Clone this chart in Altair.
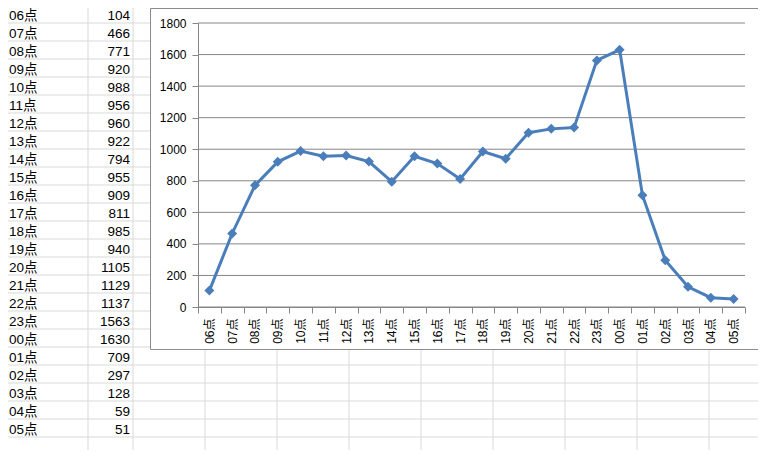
import altair as alt
import pandas as pd

# ---- data ----
hours = ["06点", "07点", "08点", "09点", "10点", "11点", "12点", "13点", "14点", "15点",
         "16点", "17点", "18点", "19点", "20点", "21点", "22点", "23点", "00点", "01点",
         "02点", "03点", "04点", "05点"]
counts = [104, 466, 771, 920, 988, 956, 960, 922, 794, 955,
          909, 811, 985, 940, 1105, 1129, 1137, 1563, 1630, 709,
          297, 128, 59, 51]
y_ticks = [0, 200, 400, 600, 800, 1000, 1200, 1400, 1600, 1800]

df = pd.DataFrame({"hour": hours, "count": counts, "row": list(range(len(hours)))})
ticks_df = pd.DataFrame({"t": y_ticks})

# ---- layout (pixels, relative to plot-area origin) ----
W, H = 547, 284
ROW_H = 18
FONT = "Liberation Sans, Noto Sans CJK SC"
BLUE = "#4A7EBB"
GRID = "#868686"
SHEET = "#d9d9d9"

sheet_rows = pd.DataFrame({"k": list(range(0, 25))})
sheet_cols = pd.DataFrame({"px": [-110, -65, 7, 79, 151, 223, 295, 367, 439, 511]})
one = pd.DataFrame({"a": [0]})

h_lines = alt.Chart(sheet_rows).transform_calculate(vy=f"datum.k*{ROW_H}").mark_rule(
    color=SHEET, strokeWidth=1).encode(
    y=alt.Y("vy:Q", scale=None, axis=None),
    x=alt.value(-190), x2=alt.value(568))

v_lines = alt.Chart(sheet_cols).mark_rule(color=SHEET, strokeWidth=1).encode(
    x=alt.X("px:Q", scale=None, axis=None),
    y=alt.value(-15), y2=alt.value(435))

lbl_text = alt.Chart(df).transform_calculate(vy=f"-7.5 + datum.row*{ROW_H}").mark_text(
    align="left", baseline="middle", font=FONT, fontSize=13.5, color="#000").encode(
    y=alt.Y("vy:Q", scale=None, axis=None), x=alt.value(-189), text="hour:N")

val_text = alt.Chart(df).transform_calculate(vy=f"-7.5 + datum.row*{ROW_H}").mark_text(
    align="right", baseline="middle", font=FONT, fontSize=13.5, color="#000").encode(
    y=alt.Y("vy:Q", scale=None, axis=None), x=alt.value(-68), text="count:Q")

box = alt.Chart(one).mark_rect(fill="white", stroke="#8c8c8c", strokeWidth=1).encode(
    x=alt.value(-47.5), x2=alt.value(561.5), y=alt.value(-14.5), y2=alt.value(326.5))

xaxis = alt.Axis(labelAngle=270, tickBand="extent", ticks=True, tickSize=6,
                 tickColor=GRID, domainColor=GRID, labelFont=FONT, labelFontSize=12,
                 labelColor="#000", labelPadding=5, zindex=1, grid=False)
xscale = alt.Scale(type="band", paddingInner=0, paddingOuter=0)
yaxis = alt.Axis(values=y_ticks, format="d", grid=False, tickSize=6, tickColor=GRID,
                 domainColor=GRID, labelFont=FONT, labelFontSize=12,
                 labelColor="#000", labelPadding=6, zindex=1)
yscale = alt.Scale(domain=[0, 1800])

grid = alt.Chart(ticks_df).mark_rule(color=GRID, strokeWidth=1).encode(
    y=alt.Y("t:Q", scale=yscale, axis=yaxis, title=None),
    x=alt.value(0), x2=alt.value(W))

line = alt.Chart(df).mark_line(color=BLUE, strokeWidth=3).encode(
    x=alt.X("hour:N", sort=hours, title=None, scale=xscale, axis=xaxis),
    y=alt.Y("count:Q", scale=yscale, axis=yaxis, title=None))

pts = alt.Chart(df).mark_point(shape="diamond", filled=True, size=100, color=BLUE,
                               opacity=1).encode(
    x=alt.X("hour:N", sort=hours, title=None, scale=xscale, axis=xaxis),
    y=alt.Y("count:Q", scale=yscale, axis=yaxis, title=None))

chart = alt.layer(h_lines, v_lines, lbl_text, val_text, box, grid, line, pts).properties(
    width=W, height=H,
    autosize=alt.AutoSizeParams(type="none"),
    padding={"left": 190, "top": 15, "right": 13, "bottom": 143},
    background="white",
).configure_view(strokeWidth=0)

chart.save("out.html", embed_options={"renderer": "svg", "actions": False})
